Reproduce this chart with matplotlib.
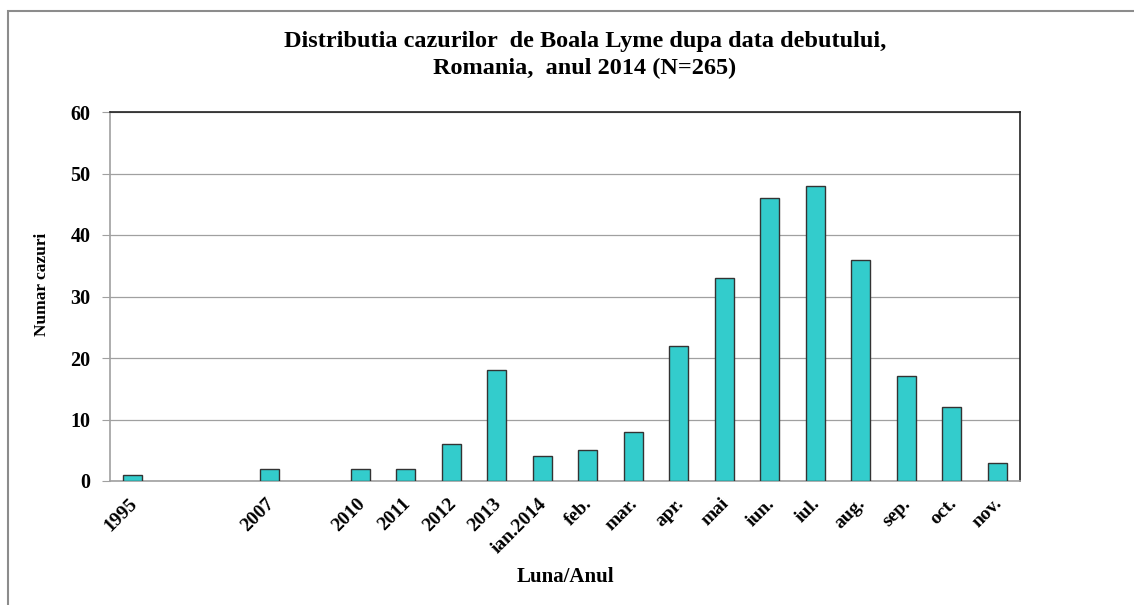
import matplotlib.pyplot as plt
import matplotlib.transforms as mtransforms
from matplotlib.patches import Rectangle

# slots on the x axis; empty strings are years with no cases
categories = ['1995', '', '', '2007', '', '2010', '2011', '2012', '2013', 'ian.2014',
              'feb.', 'mar.', 'apr.', 'mai', 'iun.', 'iul.', 'aug.', 'sep.', 'oct.', 'nov.']
cases = [1, 0, 0, 2, 0, 2, 2, 6, 18, 4, 5, 8, 22, 33, 46, 48, 36, 17, 12, 3]

BAR_COLOR = '#33CCCC'
GRID_COLOR = '#A0A0A0'

plt.rcParams['font.family'] = 'Liberation Serif'
plt.rcParams['font.weight'] = 'bold'

fig = plt.figure(figsize=(11.34, 6.05), dpi=100)
ax = fig.add_axes([110 / 1134, 1 - 481 / 605, 910 / 1134, 369 / 605])

# outer frame (top and left edges only visible)
fig.patches.append(Rectangle((8 / 1134, -0.1), 1.2, 1 - 11 / 605 + 0.1,
                             transform=fig.transFigure, fill=False,
                             edgecolor='#8C8C8C', linewidth=1.5))

x = list(range(len(categories)))
for xi, h, lab in zip(x, cases, categories):
    if lab:
        ax.bar(xi, h, width=0.42, color=BAR_COLOR, edgecolor='#333333', linewidth=1, zorder=3)

ax.set_xlim(-0.5, len(categories) - 0.5)
ax.set_ylim(0, 60)
ax.set_yticks(range(0, 61, 10))
ax.yaxis.grid(True, color=GRID_COLOR, linewidth=0.9, zorder=0)
ax.set_xticks(x)
ax.set_xticklabels(categories, rotation=45, ha='right', rotation_mode='anchor', fontsize=14)
ax.tick_params(axis='x', length=0, pad=10)
ax.tick_params(axis='y', length=6, color=GRID_COLOR, labelsize=14.5, pad=8)

# nudge the rotated month labels a little to the left
shift = mtransforms.ScaledTranslation(-4 / 100, 0, fig.dpi_scale_trans)
for lbl in ax.get_xticklabels():
    lbl.set_transform(lbl.get_transform() + shift)

ax.spines['top'].set_color('#222222')
ax.spines['right'].set_color('#222222')
ax.spines['left'].set_color(GRID_COLOR)
ax.spines['bottom'].set_color(GRID_COLOR)
for s in ax.spines.values():
    s.set_linewidth(1.2)

fig.text(585 / 1134, 1 - 55 / 605, 'Distributia cazurilor  de Boala Lyme dupa data debutului,\nRomania,  anul 2014 (N=265)',
         ha='center', va='center', fontsize=17.5, fontweight='bold', linespacing=1.4)
fig.text(42 / 1134, 1 - 284 / 605, 'Numar cazuri', rotation=90, ha='center', va='center',
         fontsize=12.5, fontweight='bold')
fig.text(565 / 1134, 1 - 577 / 605, 'Luna/Anul', ha='center', va='center', fontsize=15, fontweight='bold')

fig.savefig('out.png', dpi=100)
